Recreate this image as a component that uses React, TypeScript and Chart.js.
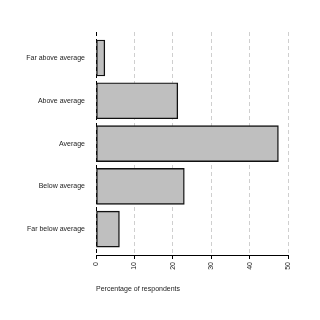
import React, { useEffect, useRef } from "react";
import { Chart, registerables } from "chart.js";

Chart.register(...registerables);

const categories = [
  "Far above average",
  "Above average",
  "Average",
  "Below average",
  "Far below average",
];
const percentages = [2.3, 21.3, 47.5, 23.0, 6.1];
const xTicks = [0, 10, 20, 30, 40, 50];
const xTitle = "Percentage of respondents";

export default function App() {
  const ref = useRef<HTMLCanvasElement | null>(null);
  useEffect(() => {
    if (!ref.current) return;
    const font = { family: "'Liberation Sans', Arial, sans-serif", size: 7 };
    const chart = new Chart(ref.current, {
      type: "bar",
      data: {
        datasets: [
          {
            data: percentages.map((v, i) => ({ x: v, y: i })),
            backgroundColor: "#bfbfbf",
            borderColor: "#111",
            borderWidth: 1.4,
            borderSkipped: false,
            barThickness: 36,
          },
        ],
      },
      options: {
        indexAxis: "y",
        animation: false,
        responsive: false,
        layout: { padding: { left: 0, top: 32, right: 32, bottom: 0 } },
        plugins: { legend: { display: false }, tooltip: { enabled: false } },
        scales: {
          y: {
            type: "linear",
            reverse: true,
            offset: false,
            min: -0.607,
            max: 4.603,
            afterBuildTicks: (s: any) => {
              s.ticks = categories.map((_, i) => ({ value: i }));
            },
            afterFit: (s: any) => {
              s.width = 96;
            },
            ticks: {
              font,
              color: "#222",
              padding: 11,
              autoSkip: false,
              callback: (v: any) => categories[v as number] ?? "",
            },
            grid: { display: false, drawTicks: false },
            border: { display: false },
          },
          x: {
            type: "linear",
            min: 0,
            max: 50,
            afterBuildTicks: (s: any) => {
              s.ticks = xTicks.map((v) => ({ value: v }));
            },
            afterFit: (s: any) => {
              s.height = 65;
            },
            ticks: {
              font,
              color: "#222",
              minRotation: 90,
              maxRotation: 90,
              padding: 3,
            },
            grid: {
              color: (c: any) => (c.tick && c.tick.value === 0 ? "#000" : "#cfcfcf"),
              lineWidth: 1,
              tickColor: "#000",
              tickLength: 4,
              tickBorderDash: [],
            },
            border: { display: true, color: "#000", width: 1, dash: [4, 3] },
            title: {
              display: true,
              text: xTitle,
              align: "start",
              font,
              color: "#222",
              padding: { top: 0, bottom: 27 },
            },
          },
        },
      },
    });
    return () => chart.destroy();
  }, []);
  return (
    <div style={{ position: "absolute", left: 0, top: 0, width: 320, height: 320, background: "#fff" }}>
      <canvas ref={ref} width={320} height={320} />
    </div>
  );
}
